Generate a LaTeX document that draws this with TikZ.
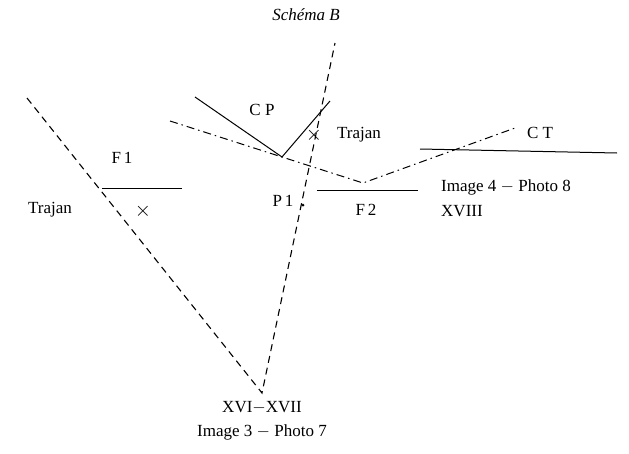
\documentclass[tikz,border=0pt]{standalone}
\usepackage{fontspec}
\setmainfont{Liberation Serif}
\begin{document}
\begin{tikzpicture}[
        x=1pt, y=-1pt,
        label/.style={font=\fontsize{17}{20}\selectfont, inner sep=0pt},
        croix/.style={font=\fontsize{20}{20}\selectfont, inner sep=0pt},
        axe/.style={line width=1.1pt, dash pattern=on 7pt off 5pt},
        visee/.style={line width=1pt, dash pattern=on 8pt off 4pt on 1.5pt off 4pt},
        mur/.style={line width=1pt}
    ]
    \useasboundingbox (0,0) rectangle (629,453);
    % points du schema
    \coordinate (A1) at (27,98);
    \coordinate (S) at (262,393);
    \coordinate (A2) at (335,43);
    \coordinate (V1) at (170,121);
    \coordinate (V2) at (282,157);
    \coordinate (V3) at (363,183);
    \coordinate (V4) at (515,128);
    \coordinate (CPa) at (195,97);
    \coordinate (CPb) at (330,101);
    \coordinate (F1a) at (102,188);
    \coordinate (F1b) at (182,188);
    \coordinate (F2a) at (317,190);
    \coordinate (F2b) at (418,190);
    \coordinate (CTa) at (420,149);
    \coordinate (CTb) at (617,153);
    % lignes
    \draw[axe] (A1) -- (S) -- (A2);
    \draw[visee] (V1) -- (V2) -- (V3) -- (V4);
    \draw[mur] (CPa) -- (V2) -- (CPb);
    \draw[mur] (F1a) -- (F1b);
    \draw[mur] (F2a) -- (F2b);
    \draw[mur] (CTa) -- (CTb);
    \fill (303,205) circle (1.5pt);
    % textes
    \node[label, font=\fontsize{17}{20}\selectfont\itshape] (titre) at (306,15) {Schéma B};
    \node[label] (f1) at (122,158) {F\,1};
    \node[label] (traj1) at (50,210) {Trajan};
    \node[croix] (x1) at (143,211) {$\times$};
    \node[label] (cp) at (262,110) {C P};
    \node[croix] (x2) at (314,135) {$\times$};
    \node[label] (traj2) at (359,135) {Trajan};
    \node[label] (ct) at (540,133) {C T};
    \node[label] (p1) at (283,201) {P\,1};
    \node[label] (f2) at (366,210) {F\,2};
    \node[label, anchor=west] (img4) at (441,187) {Image 4 $-$ Photo 8};
    \node[label, anchor=west] (xviii) at (441,211) {XVIII};
    \node[label] (xvi) at (262,408) {XVI$-$XVII};
    \node[label] (img3) at (262,432) {Image 3 $-$ Photo 7};
\end{tikzpicture}
\end{document}
